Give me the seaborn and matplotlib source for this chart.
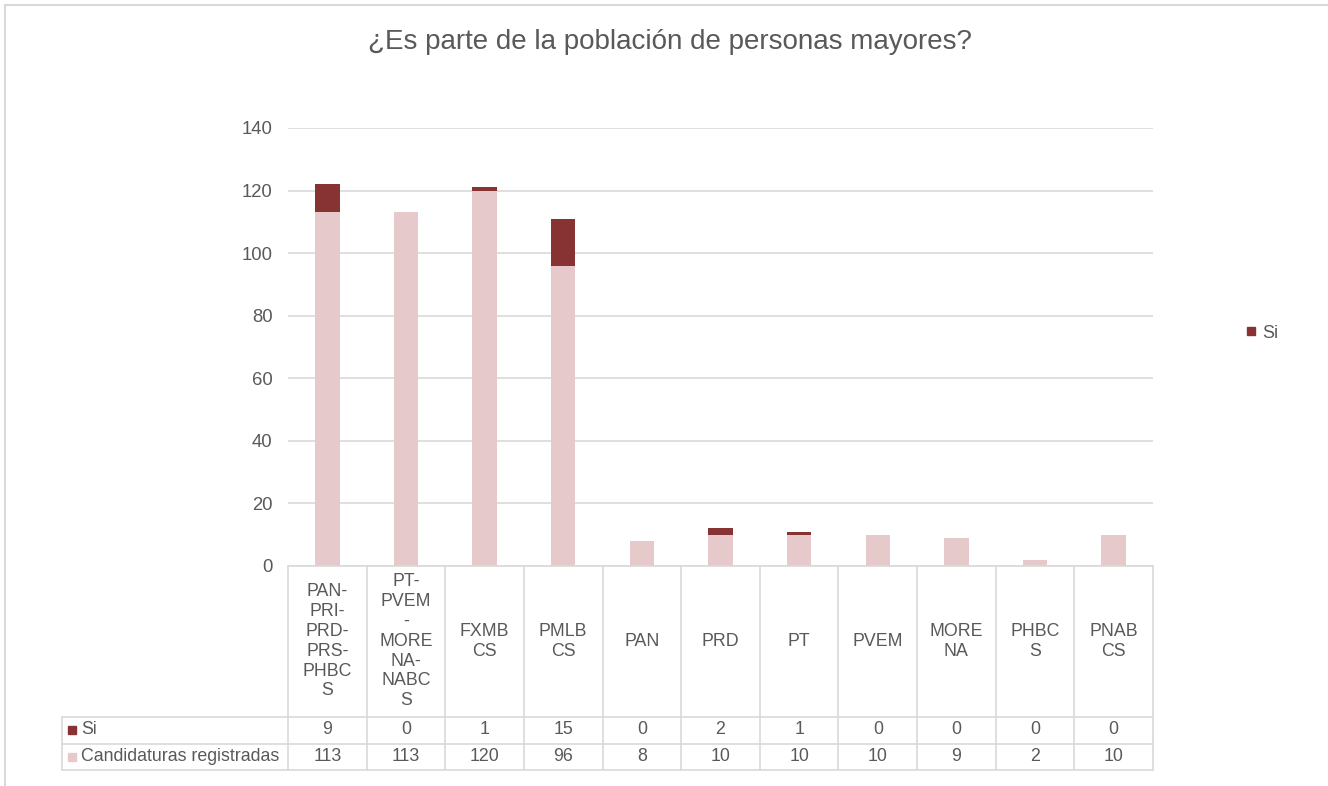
import pandas as pd
import matplotlib.pyplot as plt
import matplotlib.transforms as mtransforms
from matplotlib.lines import Line2D
from matplotlib.patches import Rectangle
import seaborn as sns

# data
partidos = ['PAN-PRI-PRD-PRS-PHBCS', 'PT-PVEM-MORENA-NABCS', 'FXMBCS', 'PMLBCS', 'PAN',
            'PRD', 'PT', 'PVEM', 'MORENA', 'PHBCS', 'PNABCS']
etiquetas = ['PAN-\nPRI-\nPRD-\nPRS-\nPHBC\nS', 'PT-\nPVEM\n-\nMORE\nNA-\nNABC\nS', 'FXMB\nCS',
             'PMLB\nCS', 'PAN', 'PRD', 'PT', 'PVEM', 'MORE\nNA', 'PHBC\nS', 'PNAB\nCS']
si = [9, 0, 1, 15, 0, 2, 1, 0, 0, 0, 0]
candidaturas = [113, 113, 120, 96, 8, 10, 10, 10, 9, 2, 10]

oscuro = '#873333'
claro = '#E6CACB'
gris_txt = '#595959'
gris_lin = '#D9D9D9'

df = pd.DataFrame({'partido': partidos, 'si': si, 'candidaturas': candidaturas})
df['total'] = df['si'] + df['candidaturas']

sns.set_style('white')
plt.rcParams['font.family'] = ['Liberation Sans', 'DejaVu Sans']

W, H = 1328, 786
fig = plt.figure(figsize=(W / 100, H / 100), dpi=100)
ax = fig.add_axes([288 / W, 1 - 566 / H, 865 / W, 438 / H])

# stacked bars: total behind, candidaturas in front
sns.barplot(data=df, x='partido', y='total', color=oscuro, saturation=1, width=0.31,
            linewidth=0, ax=ax)
sns.barplot(data=df, x='partido', y='candidaturas', color=claro, saturation=1, width=0.31,
            linewidth=0, ax=ax)

ax.set_ylim(0, 140)
ax.set_yticks(range(0, 141, 20))
ax.set_xlim(-0.5, len(partidos) - 0.5)
ax.set_xlabel('')
ax.set_ylabel('')
ax.tick_params(axis='x', bottom=False, labelbottom=False)
ax.tick_params(axis='y', left=False, length=0, labelsize=13.3, labelcolor=gris_txt, pad=11)
ax.yaxis.grid(True, color=gris_lin, lw=1.2)
ax.set_axisbelow(True)
sns.despine(ax=ax, left=True, bottom=True)

# data table below the plot
tr = mtransforms.blended_transform_factory(ax.transData, ax.transAxes)
y_head = (566 - 716.5) / 438
y_mid = (566 - 743.5) / 438
y_bot = (566 - 770) / 438
x_left = (62 - 288) / 865
n = len(partidos)
fs = 12.8

ax.plot([0, 1], [0, 0], color=gris_lin, lw=1.2, transform=ax.transAxes, clip_on=False)
for yy in (y_head, y_mid, y_bot):
    ax.plot([x_left, 1], [yy, yy], color=gris_lin, lw=1.2, transform=ax.transAxes, clip_on=False)
for i in range(n + 1):
    ax.plot([i - 0.5, i - 0.5], [0, y_bot], color=gris_lin, lw=1.2, transform=tr, clip_on=False)
ax.plot([x_left, x_left], [y_head, y_bot], color=gris_lin, lw=1.2, transform=ax.transAxes,
        clip_on=False)

y_si = (y_head + y_mid) / 2
y_cand = (y_mid + y_bot) / 2
for i, lab in enumerate(etiquetas):
    ax.text(i, y_head / 2, lab, transform=tr, ha='center', va='center', multialignment='center',
            fontsize=fs, color=gris_txt, linespacing=1.22)
    ax.text(i, y_si, str(si[i]), transform=tr, ha='center', va='center', fontsize=fs, color=gris_txt)
    ax.text(i, y_cand, str(candidaturas[i]), transform=tr, ha='center', va='center', fontsize=fs,
            color=gris_txt)

for yy, col, lab in ((y_si, oscuro, 'Si'), (y_cand, claro, 'Candidaturas registradas')):
    ax.plot([(71.5 - 288) / 865], [yy], marker='s', ms=5.5, color=col, transform=ax.transAxes,
            clip_on=False)
    ax.text((81 - 288) / 865, yy, lab, transform=ax.transAxes, ha='left', va='center',
            fontsize=fs, color=gris_txt)

handle = Line2D([], [], marker='s', ls='', ms=6, color=oscuro, label='Si')
ax.legend(handles=[handle], loc='center left',
          bbox_to_anchor=((1246 - 288) / 865, (566 - 333) / 438), frameon=False,
          handlelength=0.6, handletextpad=0.3, borderpad=0,
          borderaxespad=0, prop={'size': 13}, labelcolor=gris_txt)

fig.text(670 / W, 1 - 42 / H, '¿Es parte de la población de personas mayores?', ha='center',
         va='center', fontsize=20, color=gris_txt)

# chart frame
fig.add_artist(Rectangle((5 / W, -0.1), 2, 1.1 - 5 / H, transform=fig.transFigure,
                         facecolor='none', edgecolor=gris_lin, lw=1.5))

fig.savefig('out.png', dpi=100, facecolor='white')
